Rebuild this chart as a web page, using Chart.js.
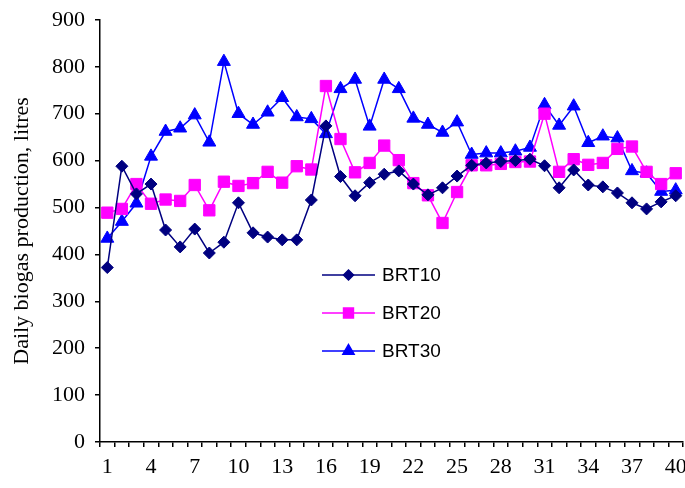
<!DOCTYPE html>
<html>
<head>
<meta charset="utf-8">
<script src="https://cdn.jsdelivr.net/npm/chart.js@4"></script>
<style>
  html, body { margin: 0; padding: 0; background: #fff; }
</style>
</head>
<body>
<canvas id="biogas-chart" width="685" height="488"></canvas>
<script>
// day numbers on the x axis
const days = ["1", "2", "3", "4", "5", "6", "7", "8", "9", "10",
  "11", "12", "13", "14", "15", "16", "17", "18", "19", "20",
  "21", "22", "23", "24", "25", "26", "27", "28", "29", "30",
  "31", "32", "33", "34", "35", "36", "37", "38", "39", "40"];
// only every third day is labelled
const shownDays = ["1", "4", "7", "10", "13", "16", "19", "22", "25", "28", "31", "34", "37", "40"];

// daily biogas production, litres
const brt10 = [372, 588, 529, 550, 452, 416, 454, 403, 426, 510,
  446, 437, 431, 431, 516, 674, 566, 525, 553, 571,
  578, 550, 527, 542, 567, 590, 595, 598, 600, 603,
  589, 542, 580, 548, 544, 531, 510, 497, 512, 525];
const brt20 = [489, 497, 550, 508, 517, 514, 548, 494, 555, 546,
  552, 576, 553, 588, 581, 759, 646, 575, 595, 632,
  601, 552, 526, 467, 533, 590, 590, 593, 597, 598,
  700, 576, 603, 591, 595, 625, 630, 576, 550, 573];
const brt30 = [434, 470, 509, 609, 662, 669, 697, 639, 811, 700,
  677, 703, 734, 693, 689, 657, 753, 773, 673, 773,
  753, 690, 677, 660, 682, 613, 616, 616, 620, 628,
  719, 675, 716, 638, 652, 648, 578, 573, 534, 537];

const yMin = 0, yMax = 900, yStep = 100;

const serif = "'Liberation Serif', 'Times New Roman', serif";

// legend sits inside the plot, drawn by hand like the excel one
const insideLegend = {
  id: "insideLegend",
  afterDatasetsDraw(chart) {
    const ctx = chart.ctx;
    const x0 = 322, x1 = 375, textX = 382;
    const rows = [275, 313, 351];
    ctx.save();
    chart.data.datasets.forEach((ds, i) => {
      const y = rows[i];
      ctx.strokeStyle = ds.borderColor;
      ctx.lineWidth = ds.borderWidth;
      ctx.beginPath();
      ctx.moveTo(x0, y);
      ctx.lineTo(x1, y);
      ctx.stroke();
      ctx.fillStyle = ds.pointBackgroundColor;
      ctx.strokeStyle = ds.pointBorderColor;
      Chart.helpers.drawPoint(ctx, {
        pointStyle: ds.pointStyle,
        radius: ds.pointRadius - 1,
        borderWidth: 1,
        rotation: 0
      }, (x0 + x1) / 2, y);
      ctx.fillStyle = "#000";
      ctx.font = "19px 'Liberation Sans', Arial, sans-serif";
      ctx.textBaseline = "middle";
      ctx.textAlign = "left";
      ctx.fillText(ds.label, textX, y + 1);
    });
    ctx.restore();
  }
};

// x labels drawn here so chart.js doesn't reserve side padding for "40"
const dayLabels = {
  id: "dayLabels",
  afterDraw(chart) {
    const ctx = chart.ctx;
    const xs = chart.scales.x;
    ctx.save();
    ctx.fillStyle = "#000";
    ctx.font = "22px " + serif;
    ctx.textAlign = "center";
    ctx.textBaseline = "middle";
    days.forEach((d, i) => {
      if (!shownDays.includes(d)) return;
      ctx.fillText(d, xs.getPixelForValue(i), xs.top + 25);
    });
    ctx.restore();
  }
};

const makeSet = (label, data, color, style, radius) => ({
  label: label,
  data: data,
  borderColor: color,
  backgroundColor: color,
  pointBackgroundColor: color,
  pointBorderColor: color,
  pointBorderWidth: 1,
  pointStyle: style,
  pointRadius: radius,
  pointHoverRadius: radius,
  borderWidth: 1.5,
  tension: 0,
  fill: false
});

var ctx = document.getElementById("biogas-chart").getContext("2d");
var chart = new Chart(ctx, {
  type: "line",
  data: {
    labels: days,
    datasets: [
      makeSet("BRT10", brt10, "#000080", "rectRot", 6),
      makeSet("BRT20", brt20, "#FF00FF", "rect", 8),
      makeSet("BRT30", brt30, "#0000FF", "triangle", 7.5)
    ]
  },
  options: {
    responsive: false,
    animation: false,
    devicePixelRatio: 1,
    layout: {
      autoPadding: false,
      padding: { top: 0, right: 2, left: 0, bottom: 0 }
    },
    plugins: {
      legend: { display: false },
      tooltip: { enabled: false }
    },
    scales: {
      x: {
        offset: true,
        afterFit: function (scale) {
          scale.height = 46;
        },
        grid: {
          offset: true,
          drawOnChartArea: false,
          drawTicks: true,
          tickLength: 5,
          color: "#000",
          lineWidth: 1.5
        },
        border: { color: "#000", width: 1.5 },
        ticks: { display: false, autoSkip: false }
      },
      y: {
        min: yMin,
        max: yMax,
        afterFit: function (scale) {
          scale.width = 100;
        },
        title: {
          display: true,
          text: "Daily biogas production, litres",
          color: "#000",
          padding: { top: 9, bottom: 0 },
          font: { family: serif, size: 22 }
        },
        grid: {
          drawOnChartArea: false,
          drawTicks: true,
          tickLength: 5,
          color: "#000",
          lineWidth: 1.5
        },
        border: { color: "#000", width: 1.5 },
        ticks: {
          stepSize: yStep,
          padding: 10,
          color: "#000",
          font: { family: serif, size: 22, lineHeight: 0.9 }
        }
      }
    }
  },
  plugins: [insideLegend, dayLabels]
});
</script>
</body>
</html>
